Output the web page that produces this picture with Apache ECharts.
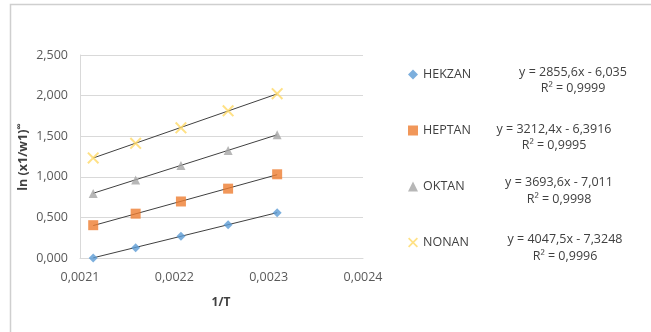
<!DOCTYPE html>
<html><head><meta charset="utf-8">
<script src="https://cdn.jsdelivr.net/npm/echarts@6/dist/echarts.min.js"></script>
<style>html,body{margin:0;padding:0;background:#fff}#c{width:651px;height:332px}</style>
</head><body><div id="c"></div>
<script>
var invT = [0.002114, 0.002159, 0.002207, 0.002257, 0.002309];
var names = ['HEKZAN', 'HEPTAN', 'OKTAN', 'NONAN'];
var hekzan = [0.000, 0.127, 0.268, 0.409, 0.557];
var heptan = [0.404, 0.546, 0.696, 0.854, 1.031];
var oktan  = [0.795, 0.962, 1.138, 1.323, 1.518];
var nonan  = [1.233, 1.412, 1.603, 1.812, 2.024];
var slopes = [2855.6, 3212.4, 3693.6, 4047.5];
var intercepts = [-6.035, -6.3916, -7.011, -7.3248];
var eqTexts = ['y = 2855,6x - 6,035', 'y = 3212,4x - 6,3916', 'y = 3693,6x - 7,011', 'y = 4047,5x - 7,3248'];
var r2Texts = ['R² = 0,9999', 'R² = 0,9995', 'R² = 0,9998', 'R² = 0,9996'];
var xTicks = {min: 0.0021, max: 0.0024, interval: 0.0001};
var yTicks = {min: 0, max: 2.5, interval: 0.5};

var values = [hekzan, heptan, oktan, nonan];
var colors = ['#5B9BD5', '#ED7D31', '#A5A5A5', '#FFD966'];
var xPath = 'path://M0,1.2L1.2,0L5,3.8L8.8,0L10,1.2L6.2,5L10,8.8L8.8,10L5,6.2L1.2,10L0,8.8L3.8,5Z';
var symbols = ['diamond', 'rect', 'triangle', xPath];
var sizes = [9, 10, 9, 12];
var font = '"Open Sans", "Liberation Sans", sans-serif';

var series = [];
values.forEach(function (v, i) {
  var x0 = invT[0], x1 = invT[invT.length - 1];
  series.push({
    name: 'trend' + i, type: 'line', silent: true, symbol: 'none',
    lineStyle: {color: '#404040', width: 1},
    data: [[x0, slopes[i] * x0 + intercepts[i]], [x1, slopes[i] * x1 + intercepts[i]]],
    z: 2
  });
});
values.forEach(function (v, i) {
  series.push({
    name: names[i], type: 'scatter', symbol: symbols[i], symbolSize: sizes[i],
    itemStyle: {color: colors[i]},
    data: invT.map(function (x, k) { return [x, v[k]]; }),
    z: 3
  });
});

var eqX = [573, 554, 559, 565];
var eqY = [72, 129, 182, 239];
var r2Y = [88, 145, 199, 256];
var graphics = [
  {type: 'rect', shape: {x: 10.5, y: 4.5, width: 700, height: 400}, style: {fill: 'none', stroke: '#cfcfcf', lineWidth: 1.5}, z: -1},
  {type: 'text', x: 221, y: 303, style: {text: '1/T', font: 'bold 12px ' + font, fill: '#404040', align: 'center', verticalAlign: 'middle'}},
  {type: 'text', x: 23, y: 157, rotation: Math.PI / 2,
    style: {text: '{a|ln (x1/w1)}{b|∞}', align: 'center', verticalAlign: 'middle',
      rich: {a: {font: 'bold 12.5px ' + font, fill: '#404040'}, b: {font: 'bold 9px ' + font, fill: '#404040', padding: [0, 0, 7, 0]}}}}
];
eqTexts.forEach(function (t, i) {
  graphics.push({type: 'text', x: eqX[i], y: eqY[i], style: {text: t, font: '12.5px ' + font, fill: '#404040', align: 'center', verticalAlign: 'middle'}});
  graphics.push({type: 'text', x: eqX[i], y: r2Y[i], style: {text: r2Texts[i], font: '12.5px ' + font, fill: '#404040', align: 'center', verticalAlign: 'middle'}});
});

var chart = echarts.init(document.getElementById('c'), null, {renderer: 'canvas'});
chart.setOption({
  animation: false,
  grid: {left: 80, right: 288, top: 55, bottom: 74},
  xAxis: {
    type: 'value', min: xTicks.min, max: xTicks.max, interval: xTicks.interval,
    axisLine: {show: true, lineStyle: {color: '#d9d9d9'}},
    axisTick: {show: false},
    splitLine: {show: false},
    axisLabel: {color: '#595959', fontFamily: font, fontSize: 12.5, margin: 13,
      formatter: function (v) { return v.toFixed(4).replace('.', ','); }}
  },
  yAxis: {
    type: 'value', min: yTicks.min, max: yTicks.max, interval: yTicks.interval,
    axisLine: {show: true, lineStyle: {color: '#d9d9d9'}},
    axisTick: {show: false},
    splitLine: {show: true, lineStyle: {color: '#d9d9d9'}},
    axisLabel: {color: '#595959', fontFamily: font, fontSize: 12.5, margin: 12,
      formatter: function (v) { return v.toFixed(3).replace('.', ','); }}
  },
  legend: {
    data: names, orient: 'vertical', left: 403, top: 63,
    itemWidth: 10, itemHeight: 10, itemGap: 43,
    textStyle: {color: '#404040', fontFamily: font, fontSize: 12.5}
  },
  graphic: graphics,
  series: series
});
</script></body></html>
